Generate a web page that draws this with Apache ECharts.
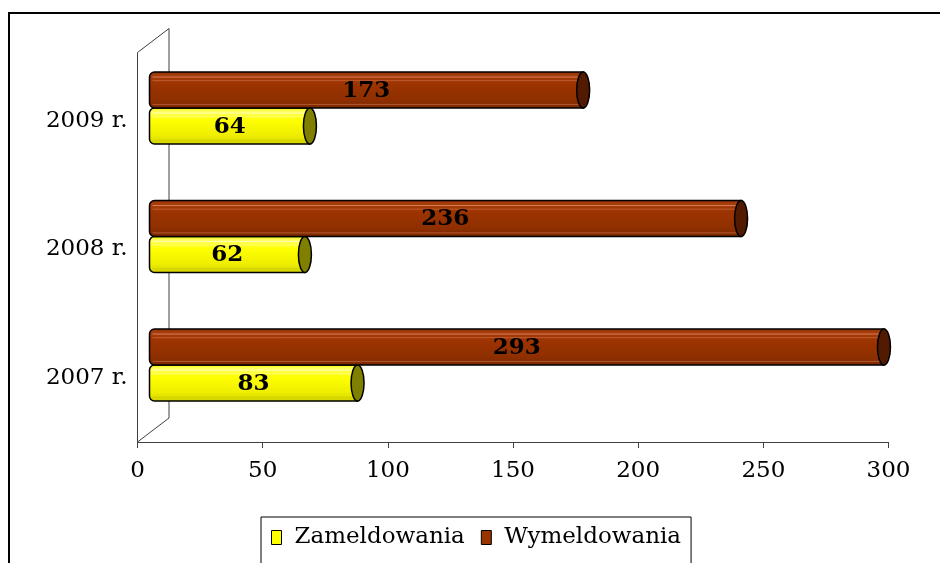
<!DOCTYPE html>
<html>
<head>
<meta charset="utf-8">
<script src="https://cdn.jsdelivr.net/npm/echarts@6/dist/echarts.min.js"></script>
<style>
html,body{margin:0;padding:0;background:#fff;}
#main{width:940px;height:563px;}
</style>
</head>
<body>
<div id="main"></div>
<script>
// ---- data ----
const categories = ['2007 r.', '2008 r.', '2009 r.'];
const seriesNames = ['Zameldowania', 'Wymeldowania'];
const zameldowania = [83, 62, 64];
const wymeldowania = [293, 236, 173];
const xMin = 0, xMax = 300, xInterval = 50;

// ---- layout / style constants ----
const FONT = 'DejaVu Serif';
const FS = 23;
const gridFront = { left: 137.5, right: 51.5, top: 56.5, bottom: 121 };
const gridBars = { left: 149.5, right: 38.5, top: 43.75, bottom: 133.75 };
const DEPTH = [31.5, -24];

const chart = echarts.init(document.getElementById('main'), null, { renderer: 'canvas' });

function cylinder(side, look) {
  return function (params, api) {
    const v = api.value(0), c = api.value(1);
    const p0 = api.coord([0, c]);
    const p1 = api.coord([v, c]);
    const band = api.size([0, 1])[1];
    const h = band * 0.28;
    const yc = p0[1] + side * h / 2;
    const top = yc - h / 2;
    const x0 = p0[0], x1 = p1[0];
    return {
      type: 'group',
      children: [
        {
          type: 'rect',
          shape: { x: x0, y: top, width: x1 - x0, height: h, r: [5, 0, 0, 5] },
          style: {
            fill: new echarts.graphic.LinearGradient(0, 0, 0, 1, look.stops),
            stroke: '#000', lineWidth: 1.5
          }
        },
        {
          type: 'line',
          shape: { x1: x0 + 3, y1: top + h * 0.14, x2: x1, y2: top + h * 0.14 },
          style: { stroke: look.hi, lineWidth: 1 }
        },
        {
          type: 'line',
          shape: { x1: x0 + 3, y1: top + h * 0.24, x2: x1, y2: top + h * 0.24 },
          style: { stroke: look.hi2, lineWidth: 1 }
        },
        {
          type: 'line',
          shape: { x1: x0 + 3, y1: top + h * 0.9, x2: x1, y2: top + h * 0.9 },
          style: { stroke: look.lo, lineWidth: 1 }
        },
        {
          type: 'ellipse',
          shape: { cx: x1, cy: yc, rx: 6.5, ry: h / 2 },
          style: { fill: look.cap, stroke: '#000', lineWidth: 1.5 }
        },
        {
          type: 'text',
          style: {
            text: String(v), x: (x0 + x1) / 2, y: yc + 1,
            align: 'center', verticalAlign: 'middle',
            font: 'bold 23px "' + FONT + '"', fill: '#000'
          }
        }
      ]
    };
  };
}

const yellowLook = {
  stops: [
    { offset: 0, color: '#f2f200' }, { offset: 0.12, color: '#ffff66' },
    { offset: 0.35, color: '#ffff00' }, { offset: 0.75, color: '#eeee00' },
    { offset: 1, color: '#d0d000' }
  ],
  hi: 'rgba(255,255,200,0.8)', hi2: 'rgba(255,255,160,0.5)', lo: 'rgba(200,200,0,0.6)',
  cap: '#808000'
};
const brownLook = {
  stops: [
    { offset: 0, color: '#8a2e00' }, { offset: 0.1, color: '#a63d0d' },
    { offset: 0.35, color: '#9c3300' }, { offset: 0.75, color: '#8f2f00' },
    { offset: 1, color: '#7a2800' }
  ],
  hi: 'rgba(235,150,110,0.75)', hi2: 'rgba(220,130,90,0.5)', lo: 'rgba(210,120,80,0.6)',
  cap: '#521a00'
};

const axisColor = '#404040';

const option = {
  animation: false,
  backgroundColor: '#fff',
  textStyle: { fontFamily: FONT },
  grid: [
    Object.assign({ containLabel: false }, gridFront),
    Object.assign({ containLabel: false }, gridBars)
  ],
  xAxis: [
    {
      type: 'value', gridIndex: 0, min: xMin, max: xMax, interval: xInterval,
      axisLine: { show: true, lineStyle: { color: axisColor, width: 1 } },
      axisTick: { show: true, inside: false, length: 6, lineStyle: { color: axisColor } },
      axisLabel: { color: '#000', fontFamily: FONT, fontSize: FS, margin: 18 },
      splitLine: { show: false }
    },
    {
      type: 'value', gridIndex: 1, min: xMin, max: xMax, interval: xInterval,
      show: false, splitLine: { show: false }
    }
  ],
  yAxis: [
    {
      type: 'category', gridIndex: 0, data: categories,
      axisLine: { show: true, lineStyle: { color: axisColor, width: 1 } },
      axisTick: { show: false },
      axisLabel: { color: '#000', fontFamily: FONT, fontSize: FS, margin: 10 }
    },
    {
      type: 'category', gridIndex: 1, data: categories, show: false
    }
  ],
  legend: {
    data: seriesNames,
    left: 261, top: 517,
    orient: 'horizontal',
    padding: [9, 10, 40, 10],
    borderColor: '#000', borderWidth: 1,
    itemWidth: 10, itemHeight: 14, itemGap: 16,
    icon: 'rect',
    itemStyle: { borderColor: '#000', borderWidth: 1 },
    textStyle: { color: '#000', fontFamily: FONT, fontSize: FS, padding: [0, 0, 0, 8] }
  },
  series: [
    {
      name: seriesNames[0], type: 'custom', xAxisIndex: 1, yAxisIndex: 1,
      itemStyle: { color: '#ffff00', borderColor: '#000', borderWidth: 1 },
      encode: { x: 0, y: 1 },
      data: zameldowania.map((v, i) => [v, i]),
      renderItem: cylinder(1, yellowLook), z: 5
    },
    {
      name: seriesNames[1], type: 'custom', xAxisIndex: 1, yAxisIndex: 1,
      itemStyle: { color: '#993300', borderColor: '#000', borderWidth: 1 },
      encode: { x: 0, y: 1 },
      data: wymeldowania.map((v, i) => [v, i]),
      renderItem: cylinder(-1, brownLook), z: 5
    }
  ]
};
chart.setOption(option);

// 3D frame (back wall + floor edge) derived from the front grid's scale
const x0 = chart.convertToPixel({ xAxisIndex: 0 }, xMin);
const yb = 563 - gridFront.bottom;
const yt = gridFront.top - 4;
chart.setOption({
  graphic: [
    {
      type: 'rect', z: -10, silent: true,
      shape: { x: 9, y: 13, width: 1000, height: 700 },
      style: { fill: 'none', stroke: '#000', lineWidth: 2 }
    },
    {
      type: 'polyline', z: 0, silent: true,
      shape: { points: [[x0, yb], [x0 + DEPTH[0], yb + DEPTH[1]], [x0 + DEPTH[0], yt + DEPTH[1]], [x0, yt], [x0, yb]] },
      style: { fill: 'none', stroke: axisColor, lineWidth: 1 }
    }
  ]
});
</script>
</body>
</html>
